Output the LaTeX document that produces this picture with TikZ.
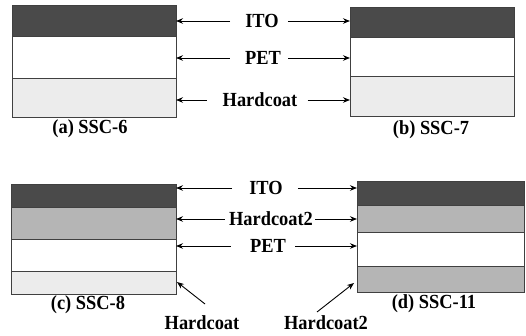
\documentclass[tikz,border=0pt]{standalone}
\usepackage{fontspec}
\setmainfont{Liberation Serif}
\newfontfamily\lblfont{Liberation Serif}[UprightFont=* Bold, FakeStretch=0.92]
\usetikzlibrary{arrows.meta}
\definecolor{itoc}{HTML}{4A4A4A}
\definecolor{hcc}{HTML}{ECECEC}
\definecolor{hctwo}{HTML}{B5B5B5}
\begin{document}
\begin{tikzpicture}[x=1pt,y=-1pt,
  layer/.style={draw=black!75, line width=0.8pt, inner sep=0pt, outer sep=0pt, anchor=north west},
  lbl/.style={font=\fontsize{20}{22}\lblfont, inner sep=0pt},
  arr/.style={line width=0.9pt, -{Stealth[length=7pt,width=5.5pt]}}]
\useasboundingbox (0,0) rectangle (526,336);
% panel a
\node[layer, fill=itoc, minimum width=164pt, minimum height=31pt] (aI) at (12,5) {};
\node[layer, fill=white, minimum width=164pt, minimum height=42pt] (aP) at (12,36) {};
\node[layer, fill=hcc, minimum width=164pt, minimum height=39pt] (aH) at (12,78) {};
% panel b
\node[layer, fill=itoc, minimum width=164pt, minimum height=30pt] (bI) at (350,7) {};
\node[layer, fill=white, minimum width=164pt, minimum height=39pt] (bP) at (350,37) {};
\node[layer, fill=hcc, minimum width=164pt, minimum height=40pt] (bH) at (350,76) {};
% panel c
\node[layer, fill=itoc, minimum width=165pt, minimum height=23pt] (cI) at (11,184) {};
\node[layer, fill=hctwo, minimum width=165pt, minimum height=32pt] (cT) at (11,207) {};
\node[layer, fill=white, minimum width=165pt, minimum height=32pt] (cP) at (11,239) {};
\node[layer, fill=hcc, minimum width=165pt, minimum height=23pt] (cH) at (11,271) {};
% panel d
\node[layer, fill=itoc, minimum width=167pt, minimum height=24pt] (dI) at (357,181) {};
\node[layer, fill=hctwo, minimum width=167pt, minimum height=27pt] (dT) at (357,205) {};
\node[layer, fill=white, minimum width=167pt, minimum height=34pt] (dP) at (357,232) {};
\node[layer, fill=hctwo, minimum width=167pt, minimum height=26pt] (dH) at (357,266) {};
% top labels
\node[lbl] (t1) at (262,21) {ITO};
\node[lbl] (t2) at (263,58) {PET};
\node[lbl] (t3) at (260,100) {Hardcoat};
\draw[arr] ([xshift=-15pt]t1.west) -- (t1.west -| aI.east);
\draw[arr] ([xshift=9pt]t1.east) -- (t1.east -| bI.west);
\draw[arr] ([xshift=-15pt]t2.west) -- (t2.west -| aP.east);
\draw[arr] ([xshift=7pt]t2.east) -- (t2.east -| bP.west);
\draw[arr] ([xshift=-16pt]t3.west) -- (t3.west -| aH.east);
\draw[arr] ([xshift=10pt]t3.east) -- (t3.east -| bH.west);
% bottom labels
\node[lbl] (u1) at (266,188) {ITO};
\node[lbl] (u2) at (271,219) {Hardcoat2};
\node[lbl] (u3) at (268,246) {PET};
\draw[arr] ([xshift=-17pt]u1.west) -- (u1.west -| cI.east);
\draw[arr] ([xshift=15pt]u1.east) -- (u1.east -| dI.west);
\draw[arr] ([xshift=-4pt]u2.west) -- (u2.west -| cT.east);
\draw[arr] ([xshift=2pt]u2.east) -- (u2.east -| dT.west);
\draw[arr] ([xshift=-19pt]u3.west) -- (u3.west -| cP.east);
\draw[arr] ([xshift=9pt]u3.east) -- (u3.east -| dP.west);
% captions
\node[lbl] (ca) at (90,129) {(a) SSC-6};
\node[lbl] (cb) at (431,130) {(b) SSC-7};
\node[lbl] (cc) at (88,305) {(c) SSC-8};
\node[lbl] (cd) at (434,304) {(d) SSC-11};
% bottom diagonal labels
\node[lbl] (h1) at (202,323) {Hardcoat};
\node[lbl] (h2) at (326,323) {Hardcoat2};
\coordinate (h1t) at (205,304);
\coordinate (h2t) at (317,312);
\draw[arr] (h1t) -- (177,282);
\draw[arr] (h2t) -- (354,283);
\end{tikzpicture}
\end{document}
